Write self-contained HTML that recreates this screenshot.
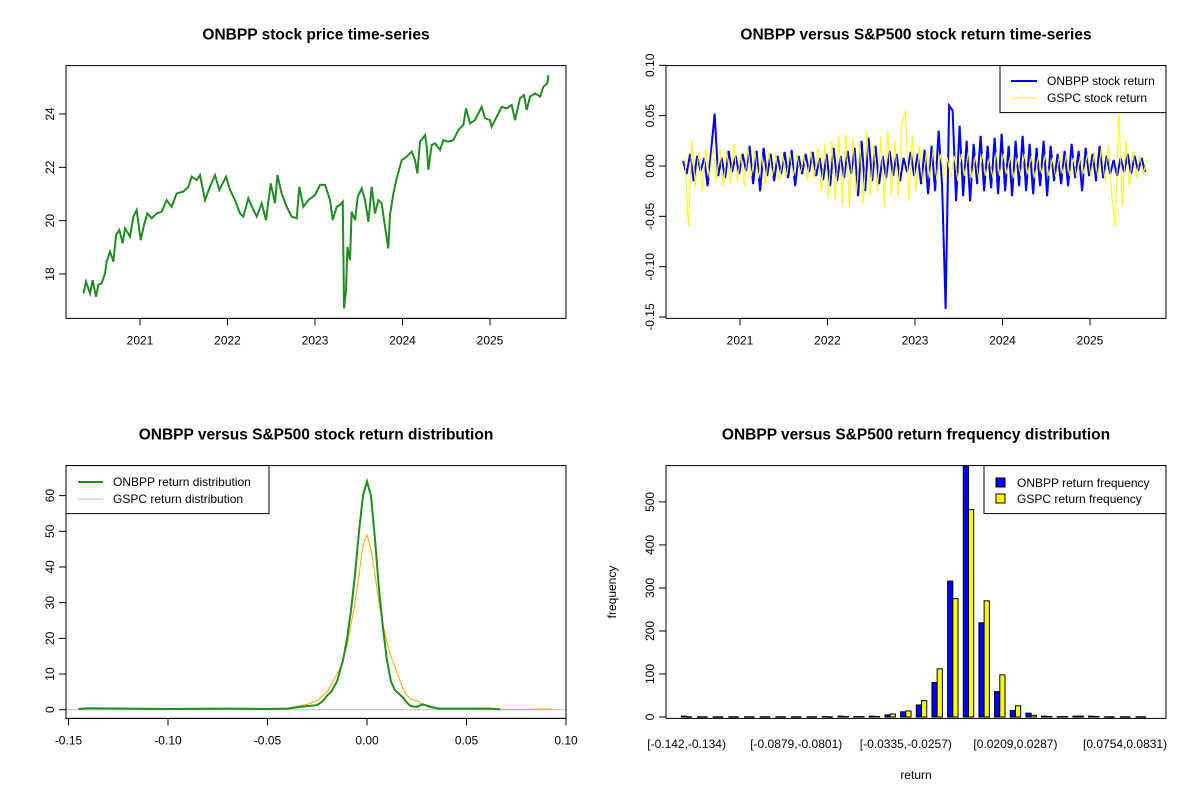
<!DOCTYPE html>
<html><head><meta charset="utf-8"><style>
html,body{margin:0;padding:0;background:#fff;}
svg{display:block;font-family:"Liberation Sans",Arial,sans-serif;}
</style></head><body>
<svg id="c" width="1200" height="800" viewBox="0 0 1200 800"></svg>
<script>
// ---------- Panel 1 data: ONBPP price ----------
const priceDates=[2020.353,2020.383,2020.429,2020.459,2020.497,2020.524,2020.562,2020.600,2020.619,2020.657,2020.696,2020.726,2020.764,2020.802,2020.829,2020.886,2020.924,2020.962,2021.008,2021.046,2021.084,2021.134,2021.191,2021.248,2021.305,2021.362,2021.419,2021.496,2021.553,2021.591,2021.648,2021.686,2021.743,2021.800,2021.857,2021.907,2021.983,2022.029,2022.086,2022.143,2022.181,2022.238,2022.296,2022.334,2022.391,2022.440,2022.494,2022.543,2022.570,2022.619,2022.677,2022.734,2022.791,2022.821,2022.867,2022.924,2023.000,2023.057,2023.115,2023.172,2023.202,2023.248,2023.286,2023.317,2023.332,2023.355,2023.370,2023.400,2023.419,2023.458,2023.488,2023.534,2023.572,2023.610,2023.648,2023.686,2023.724,2023.762,2023.800,2023.838,2023.857,2023.896,2023.934,2023.991,2024.048,2024.105,2024.143,2024.170,2024.200,2024.258,2024.277,2024.296,2024.334,2024.372,2024.429,2024.467,2024.524,2024.581,2024.639,2024.696,2024.726,2024.772,2024.829,2024.867,2024.905,2024.943,2025.000,2025.019,2025.077,2025.134,2025.191,2025.248,2025.286,2025.343,2025.389,2025.419,2025.458,2025.515,2025.572,2025.610,2025.656,2025.667];
const priceValues=[17.27,17.71,17.27,17.77,17.15,17.59,17.65,18.02,18.46,18.84,18.46,19.46,19.65,19.15,19.71,19.40,20.15,20.40,19.27,19.84,20.27,20.09,20.27,20.34,20.77,20.52,21.02,21.09,21.27,21.65,21.52,21.71,20.77,21.27,21.71,21.15,21.65,21.15,20.77,20.27,20.15,20.84,20.40,20.15,20.65,20.02,21.40,20.65,21.71,21.02,20.52,20.15,20.09,21.27,20.52,20.77,20.96,21.34,21.34,20.77,20.02,20.52,20.59,20.71,16.71,17.40,19.02,18.52,20.34,20.02,20.90,21.21,20.77,19.96,21.27,20.27,20.77,20.65,19.77,18.96,20.21,21.02,21.59,22.27,22.40,22.59,22.27,21.77,22.96,23.21,22.77,21.90,22.84,22.90,22.65,23.02,22.96,23.02,23.40,23.59,24.21,23.65,23.77,24.02,24.27,23.84,23.77,23.52,23.90,24.27,24.21,24.34,23.77,24.59,24.71,24.15,24.65,24.77,24.65,25.02,25.15,25.46];
const yearTicks=[2021,2022,2023,2024,2025];
const priceTicks=[18,20,22,24];
// ---------- Panel 2 data: returns (permille) ----------
const returnStart=2020.35, returnStep=0.04;
const onbppReturnPermille=[5,-8,12,-15,10,-5,8,-20,15,52,-10,8,-12,15,-6,10,-8,12,-5,20,-18,15,-25,18,-10,12,-15,10,-8,14,-12,16,-20,10,-8,12,-6,14,-10,8,-14,12,-20,18,-15,10,-12,15,-8,18,-30,25,-25,28,-15,20,-18,10,-12,15,-10,12,-15,8,-6,14,-10,12,-18,16,-28,20,-25,35,-20,-142,60,55,-35,40,-30,25,-35,22,-18,30,-25,20,-22,28,-28,32,-25,20,-30,25,-20,30,-25,22,-28,18,-20,25,-30,20,-15,12,-18,15,-20,22,-12,15,-25,18,-10,12,-15,20,-12,10,-8,6,-10,8,-6,12,-8,10,-5,8,-6];
const gspcReturnPermille=[10,-60,25,-20,15,-25,18,-12,20,-15,18,-20,15,-18,22,-15,12,-20,18,-10,15,-12,10,-18,14,-10,12,-15,10,-12,14,-10,12,-8,10,-14,15,-12,18,-25,22,-30,25,-35,30,-38,32,-40,28,-30,25,-38,35,-30,22,-25,30,-40,35,-28,25,-30,40,55,-35,30,-25,20,-18,15,-12,18,-15,12,-10,8,-12,10,-15,12,-10,15,-12,10,-14,12,-10,8,-12,14,-10,12,-8,10,-12,8,-10,12,-8,10,-12,10,-8,12,-10,8,-12,10,-8,12,-10,8,-12,10,-8,12,-10,14,-12,18,-15,20,-30,-60,55,-40,25,-20,15,-12,10,-8,6];
const returnTicks=[-0.15,-0.10,-0.05,0.00,0.05,0.10];
// ---------- Panel 3 data: densities ----------
const onbppDensX=[-0.145,-0.14,-0.1,-0.07,-0.05,-0.04,-0.035,-0.03,-0.025,-0.022,-0.02,-0.018,-0.015,-0.012,-0.01,-0.008,-0.006,-0.004,-0.002,0,0.002,0.004,0.006,0.008,0.01,0.012,0.014,0.016,0.018,0.02,0.022,0.025,0.028,0.032,0.036,0.045,0.055,0.062,0.067];
const onbppDensY=[0.2,0.4,0.2,0.3,0.2,0.3,0.7,1,1.3,2.5,4,5,8,14,20,28,38,50,60,64,60,48,34,23,14,8,5.5,4.5,3.5,2,1,0.8,1.5,0.8,0.3,0.3,0.3,0.3,0.1];
const gspcDensX=[-0.065,-0.05,-0.04,-0.035,-0.03,-0.025,-0.02,-0.017,-0.014,-0.012,-0.01,-0.008,-0.006,-0.004,-0.002,0,0.002,0.004,0.006,0.008,0.01,0.012,0.014,0.016,0.018,0.02,0.022,0.025,0.028,0.032,0.04,0.05,0.06,0.08,0.09,0.093];
const gspcDensY=[0.2,0.2,0.4,1,1.5,2.5,5,8,11,14,18,24,30,38,46,49,45,38,30,24,19,15,12,9,6,4,3,2.5,1.5,0.5,0.2,0.3,0.1,0.1,0.2,0.2];
const densXTicks=[-0.15,-0.10,-0.05,0.00,0.05,0.10];
const densXTickLabels=["-0.15","-0.10","-0.05","0.00","0.05","0.10"];
const densYTicks=[0,10,20,30,40,50,60];
// ---------- Panel 4 data: histogram ----------
const onbppFreq=[2,0,0,0,0,0,0,0,0,1,2,1,2,5,12,28,80,316,590,219,59,15,9,2,1,2,2,0,0,0];
const gspcFreq=[0,0,0,0,0,0,0,0,0,0,1,1,1,7,14,38,112,275,482,270,98,26,4,1,1,2,1,0,0,0];
const binLabelIndex=[0,7,14,21,28];
const binLabels=["[-0.142,-0.134)","[-0.0879,-0.0801)","[-0.0335,-0.0257)","[0.0209,0.0287)","[0.0754,0.0831)"];
const freqTicks=[0,100,200,300,400,500];

const NS="http://www.w3.org/2000/svg";
const svg=document.getElementById('c');
function mk(tag,attrs,parent,text){const e=document.createElementNS(NS,tag);for(const k in attrs)e.setAttribute(k,attrs[k]);if(text!==undefined)e.textContent=text;(parent||svg).appendChild(e);return e;}
function group(name){const g=mk('g',{});


return g;}
function box(g,x0,y0,x1,y1){const r=mk('rect',{x:x0,y:y0,width:x1-x0,height:y1-y0,fill:'none',stroke:'#000','stroke-width':1},g);

}
function title(g,x,y,t){const e=mk('text',{x:x,y:y,'text-anchor':'middle','font-size':'15.5','font-weight':'bold','dominant-baseline':'central'},g,t);

}
function xAxis(g,vals,labels,fx,y){const a=group('x-axis');g.appendChild(a);
mk('line',{x1:fx(vals[0]),x2:fx(vals[vals.length-1]),y1:y,y2:y,stroke:'#000'},a);
vals.forEach((v,i)=>{mk('line',{x1:fx(v),x2:fx(v),y1:y,y2:y+7,stroke:'#000'},a);
const t=mk('text',{x:fx(v),y:y+22,'text-anchor':'middle','font-size':'12','dominant-baseline':'central'},a,labels[i]);

});}
function yAxis(g,vals,labels,fy,x){const a=group('y-axis');g.appendChild(a);
mk('line',{x1:x,x2:x,y1:fy(vals[0]),y2:fy(vals[vals.length-1]),stroke:'#000'},a);
vals.forEach((v,i)=>{mk('line',{x1:x,x2:x-7,y1:fy(v),y2:fy(v),stroke:'#000'},a);
const t=mk('text',{x:x-16,y:fy(v),'text-anchor':'middle','font-size':'12','dominant-baseline':'central',transform:`rotate(-90 ${x-16} ${fy(v)})`},a,labels[i]);

});}
function poly(g,xs,ys,fx,fy,color,w,name){const p=mk('polyline',{points:xs.map((x,i)=>fx(x).toFixed(2)+','+fy(ys[i]).toFixed(2)).join(' '),fill:'none',stroke:color,'stroke-width':w,'stroke-linejoin':'miter'},g);

}

// Panel 1
{const g=group('price-panel');svg.appendChild(g);
const fx=d=>140+(d-2021)*87.5, fy=p=>274-(p-18)*26.67;
title(g,316,35,'ONBPP stock price time-series');
poly(g,priceDates,priceValues,fx,fy,'#228B22',2,'price-line');
box(g,66,65.6,566,318.4);
xAxis(g,yearTicks,yearTicks.map(String),fx,318.4);
yAxis(g,priceTicks,priceTicks.map(String),fy,66);}

// Panel 2
{const g=group('return-panel');svg.appendChild(g);
const fx=d=>740+(d-2021)*87.5, fy=r=>166-r*1007;
title(g,916,35,'ONBPP versus S&P500 stock return time-series');
const dates=onbppReturnPermille.map((_,i)=>returnStart+i*returnStep);
poly(g,dates,onbppReturnPermille.map(v=>v/1000),fx,fy,'#0000FF',2,'onbpp-return-line');
const gd=gspcReturnPermille.map((_,i)=>returnStart+i*returnStep+0.02);
poly(g,gd,gspcReturnPermille.map(v=>v/1000),fx,fy,'#FFFF00',1,'gspc-return-line');
box(g,666,65.6,1166,318.4);
xAxis(g,yearTicks,yearTicks.map(String),fx,318.4);
yAxis(g,returnTicks,returnTicks.map(v=>v.toFixed(2)),fy,666);
const lg=group('return-legend');g.appendChild(lg);
mk('rect',{x:1000,y:65.6,width:166,height:47,fill:'#fff',stroke:'#000'},lg);
mk('line',{x1:1011,x2:1037,y1:81,y2:81,stroke:'#0000FF','stroke-width':2},lg);
mk('line',{x1:1011,x2:1037,y1:98,y2:98,stroke:'#FFFF00','stroke-width':1},lg);
const t1=mk('text',{x:1047,y:81,'font-size':'12','dominant-baseline':'central'},lg,'ONBPP stock return');


const t2=mk('text',{x:1047,y:98,'font-size':'12','dominant-baseline':'central'},lg,'GSPC stock return');

}

// Panel 3
{const g=group('density-panel');svg.appendChild(g);
const fx=v=>367+v*1990, fy=v=>709.7-v*3.568;
title(g,316,435,'ONBPP versus S&P500 stock return distribution');
mk('line',{x1:66,x2:566,y1:fy(0),y2:fy(0),stroke:'#BEBEBE'},g);
poly(g,gspcDensX,gspcDensY,fx,fy,'#FFA500',1,'gspc-density-line');
poly(g,onbppDensX,onbppDensY,fx,fy,'#228B22',2,'onbpp-density-line');
box(g,66,465.6,566,718.4);
xAxis(g,densXTicks,densXTickLabels,fx,718.4);
yAxis(g,densYTicks,densYTicks.map(String),fy,66);
const lg=group('density-legend');g.appendChild(lg);
mk('rect',{x:66,y:465.6,width:203,height:48,fill:'#fff',stroke:'#000'},lg);
mk('line',{x1:78,x2:103,y1:482,y2:482,stroke:'#228B22','stroke-width':2},lg);
mk('line',{x1:78,x2:103,y1:499,y2:499,stroke:'#BEBEBE','stroke-width':1},lg);
const t1=mk('text',{x:113,y:482,'font-size':'12','dominant-baseline':'central'},lg,'ONBPP return distribution');


const t2=mk('text',{x:113,y:499,'font-size':'12','dominant-baseline':'central'},lg,'GSPC return distribution');

}

// Panel 4
{const g=group('histogram-panel');svg.appendChild(g);
const gx=i=>686.6+i*15.66, bw=5.22, fy=v=>717-v*0.4302;
title(g,916,435,'ONBPP versus S&P500 return frequency distribution');
const clip=mk('clipPath',{id:'hclip'},g);mk('rect',{x:666,y:465.6,width:500,height:253},clip);
const bars=mk('g',{'clip-path':'url(#hclip)'},g);
function bar(x,v,color,name){if(v>0){const r=mk('rect',{x:x,y:fy(v),width:bw,height:fy(0)-fy(v),fill:color,stroke:'#000','stroke-width':1},bars);

}
else{const l=mk('line',{x1:x,x2:x+bw,y1:fy(0),y2:fy(0),stroke:'#000','stroke-width':1.5},bars);

}}
onbppFreq.forEach((v,i)=>bar(gx(i)-bw,v,'#0000FF','bar-onbpp'));
gspcFreq.forEach((v,i)=>bar(gx(i),v,'#FFFF00','bar-gspc'));
box(g,666,465.6,1166,718.4);
binLabelIndex.forEach((bi,k)=>{const t=mk('text',{x:gx(bi),y:744,'text-anchor':'middle','font-size':'12','dominant-baseline':'central'},g,binLabels[k]);

});
yAxis(g,freqTicks,freqTicks.map(String),fy,666);
const xt=mk('text',{x:916,y:775,'text-anchor':'middle','font-size':'12','dominant-baseline':'central'},g,'return');


const yt=mk('text',{x:612,y:592,'text-anchor':'middle','font-size':'12','dominant-baseline':'central',transform:'rotate(-90 612 592)'},g,'frequency');


const lg=group('histogram-legend');g.appendChild(lg);
mk('rect',{x:984,y:465.6,width:182,height:48,fill:'#fff',stroke:'#000'},lg);
mk('rect',{x:996,y:478,width:9,height:9,fill:'#0000FF',stroke:'#000'},lg);
mk('rect',{x:996,y:494,width:9,height:9,fill:'#FFFF00',stroke:'#000'},lg);
const t1=mk('text',{x:1017,y:483,'font-size':'12','dominant-baseline':'central'},lg,'ONBPP return frequency');


const t2=mk('text',{x:1017,y:499,'font-size':'12','dominant-baseline':'central'},lg,'GSPC return frequency');

}
</script>
</body></html>
